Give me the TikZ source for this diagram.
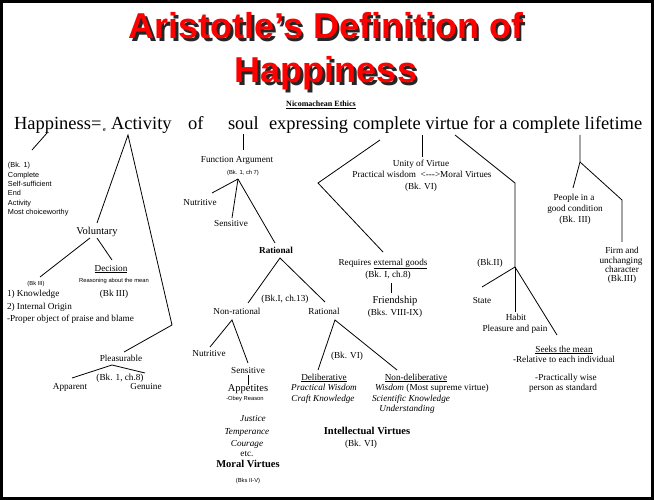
\documentclass[tikz,border=0pt]{standalone}
\usepackage{fontspec}
\setmainfont{Liberation Serif}
\newfontfamily\tfont{Liberation Sans}
\newfontfamily\sfnt{Liberation Sans}
\newcommand{\shadowtxt}[1]{\makebox[0pt][l]{\hspace{2.5pt}\raisebox{-2.5pt}{\color{black!85}#1}}{\color{red}#1}}
\begin{document}
\begin{tikzpicture}[x=1pt,y=-1pt,
 every node/.style={inner sep=0pt, outer sep=0pt},
 lbl/.style={font=\fontsize{9.2}{11}\selectfont, text height=6.1pt, text depth=0pt},
 lblL/.style={font=\fontsize{10.5}{12}\selectfont, text height=7pt, text depth=0pt},
 tiny/.style={font=\sfnt\fontsize{5.8}{7}\selectfont, text height=4.2pt, text depth=0pt},
 lft/.style={font=\sfnt\fontsize{7.3}{9}\selectfont, text height=5.3pt, text depth=0pt, anchor=west},
 mainw/.style={font=\fontsize{18.5}{22}\selectfont, anchor=base west},
 conn/.style={line width=0.8pt},
 ttl/.style={font=\tfont\bfseries\fontsize{36}{40}\selectfont, anchor=base},
]
\fill[white] (0,0) rectangle (654,500);
\draw[line width=3pt] (1.5,1.5) rectangle (652.5,498.5);
\useasboundingbox (0,0) rectangle (654,500);

% title
\node[ttl] (t1) at (326,39) {\shadowtxt{Aristotle’s Definition of}};
\node[ttl] (t2) at (326,83) {\shadowtxt{Happiness}};
\node[font=\bfseries\fontsize{8}{9}\selectfont, anchor=base] (nic) at (321,107) {\underline{Nicomachean Ethics}};

% main line
\node[mainw] (m1) at (14,130) {Happiness=};
\node[font=\bfseries\fontsize{6}{7}\selectfont, anchor=base west] (sube) at (103,132) {e};
\node[mainw] (m2) at (111,130) {Activity};
\node[mainw] (m3) at (188,130) {of};
\node[mainw] (m4) at (228,130) {soul};
\node[mainw] (m5) at (269,130) {expressing};
\node[mainw] (m6) at (353,130) {complete virtue for a complete lifetime};

% left block
\node[lft] (b1) at (8,165) {(Bk. 1)};
\node[lft] (b2) at (8,175) {Complete};
\node[lft] (b3) at (8,184) {Self-sufficient};
\node[lft] (b4) at (8,193) {End};
\node[lft] (b5) at (8,203) {Activity};
\node[lft] (b6) at (8,212) {Most choiceworthy};
\coordinate (h1) at (47,133); \coordinate (h2) at (32,150);
\draw[conn] (h1) -- (h2);

% Activity branch
\coordinate (ac) at (128,135);
\coordinate (vt) at (97,223);
\coordinate (pk) at (172,325);
\coordinate (pt) at (124,352);
\draw[conn] (vt) -- (ac) -- (pk) -- (pt);
\node[lblL] (vol) at (97,231) {Voluntary};
\coordinate (v1) at (90,238); \coordinate (v2) at (40,277);
\coordinate (v3) at (97,238); \coordinate (v4) at (112,260);
\draw[conn] (v1) -- (v2);
\draw[conn] (v3) -- (v4);
\node[lbl] (dec) at (111,268) {\underline{Decision}};
\node[tiny] (ream) at (114,280) {Reasoning about the mean};
\node[tiny] (bk3a) at (36,283) {(Bk III)};
\node[lbl, anchor=west] (kn) at (7,293) {1) Knowledge};
\node[lbl] (bk3b) at (114,293) {(Bk III)};
\node[lbl, anchor=west] (io) at (7,306) {2) Internal Origin};
\node[lbl, anchor=west] (pop) at (7,318) {-Proper object of praise and blame};
\node[lbl] (plea) at (121,358) {Pleasurable};
\coordinate (p0) at (112,365); \coordinate (p1) at (72,378); \coordinate (p2) at (145,373);
\draw[conn] (p1) -- (p0) -- (p2);
\node[lbl] (bk18) at (120,377) {(Bk. 1, ch.8)};
\node[lbl] (app) at (70,386) {Apparent};
\node[lbl] (gen) at (146,386) {Genuine};

% Function argument
\coordinate (s1) at (243,134); \coordinate (s2) at (243,150);
\draw[conn] (s1) -- (s2);
\node[lbl] (fa) at (237,159) {Function Argument};
\node[tiny] (bk17) at (243,172) {(Bk. 1, ch 7)};
\coordinate (f0) at (238,179);
\coordinate (f1) at (212,193); \coordinate (f2) at (232,218); \coordinate (f3) at (275,243);
\draw[conn] (f0) -- (f1); \draw[conn] (f0) -- (f2); \draw[conn] (f0) -- (f3);
\node[lbl] (nut1) at (200,202) {Nutritive};
\node[lbl] (sen1) at (231,223) {Sensitive};
\node[lbl, font=\bfseries\fontsize{9.2}{11}\selectfont] (rat1) at (276,250) {Rational};
\coordinate (r0) at (280,258); \coordinate (r1) at (248,303); \coordinate (r2) at (325,302);
\draw[conn] (r1) -- (r0) -- (r2);
\node[lbl] (bk113) at (285,298) {(Bk.I, ch.13)};
\node[lbl] (nonr) at (237,311) {Non-rational};
\node[lbl] (rat2) at (324,311) {Rational};
\coordinate (n0) at (232,320); \coordinate (n1) at (210,347); \coordinate (n2) at (248,363);
\draw[conn] (n1) -- (n0) -- (n2);
\node[lbl] (nut2) at (209,353) {Nutritive};
\node[lbl] (sen2) at (248,370) {Sensitive};
\coordinate (a1) at (248,375); \coordinate (a2) at (248,385);
\draw[conn] (a1) -- (a2);
\node[lblL] (appt) at (248,388) {Appetites};
\node[tiny] (obey) at (245,398) {-Obey Reason};
\node[lbl, font=\itshape\fontsize{9.2}{11}\selectfont] (jus) at (253,418) {Justice};
\node[lbl, font=\itshape\fontsize{9.2}{11}\selectfont] (tem) at (247,431) {Temperance};
\node[lbl, font=\itshape\fontsize{9.2}{11}\selectfont] (cou) at (247,443) {Courage};
\node[lbl] (etc) at (247,453) {etc.};
\node[lblL, font=\bfseries\fontsize{10.5}{12}\selectfont] (mv) at (248,464) {Moral Virtues};
\node[tiny] (bk25) at (248,480) {(Bks II-V)};

\coordinate (q0) at (335,320); \coordinate (q1) at (318,370); \coordinate (q2) at (397,370);
\draw[conn] (q1) -- (q0) -- (q2);
\node[lbl] (bk6a) at (347,355) {(Bk. VI)};
\node[lbl] (del) at (324,377) {\underline{Deliberative}};
\node[lbl, font=\itshape\fontsize{9.2}{11}\selectfont] (pw) at (324,387) {Practical Wisdom};
\node[lbl, font=\itshape\fontsize{9.2}{11}\selectfont] (ck) at (323,398) {Craft Knowledge};
\node[lbl] (ndel) at (416,377) {\underline{Non-deliberative}};
\node[lbl, anchor=west] (wis) at (375,387) {\textit{Wisdom} (Most supreme virtue)};
\node[lbl, font=\itshape\fontsize{9.2}{11}\selectfont] (sk) at (411,398) {Scientific Knowledge};
\node[lbl, font=\itshape\fontsize{9.2}{11}\selectfont] (und) at (407,408) {Understanding};
\node[lblL, font=\bfseries\fontsize{10.5}{12}\selectfont] (iv) at (367,431) {Intellectual Virtues};
\node[lbl] (bk6b) at (361,443) {(Bk. VI)};

% Unity of virtue
\coordinate (u1) at (422,135); \coordinate (u2) at (422,157);
\draw[conn] (u1) -- (u2);
\node[lbl] (uv) at (421,163) {Unity of Virtue};
\node[lbl] (pwmv) at (422,174) {Practical wisdom~ <{-}{-}{-}>Moral Virtues};
\node[lbl] (bk6c) at (421,186) {(Bk. VI)};

% external goods
\coordinate (e1) at (380,140); \coordinate (e2) at (318,183); \coordinate (e3) at (383,252);
\draw[conn] (e1) -- (e2) -- (e3);
\node[lbl] (req) at (383,262) {Requires \underline{external goods}};
\node[lbl] (bk18b) at (388,274) {(Bk. I, ch.8)};
\coordinate (g1) at (391,283); \coordinate (g2) at (391,293);
\draw[conn] (g1) -- (g2);
\node[lblL] (fr) at (395,300) {Friendship};
\node[lbl] (bk89) at (395,312) {(Bks. VIII-IX)};

% Habit
\coordinate (k1) at (455,135); \coordinate (k2) at (515,183); \coordinate (k3) at (515,267);
\draw[conn] (k1) -- (k2) -- (k3);
\node[lbl] (bk2) at (490,262) {(Bk.II)};
\coordinate (k4) at (482,287); \coordinate (k5) at (515,312); \coordinate (k6) at (557,335);
\draw[conn] (k3) -- (k4); \draw[conn] (k3) -- (k5); \draw[conn] (k3) -- (k6);
\node[lbl] (st) at (482,300) {State};
\node[lbl] (hab) at (516,317) {Habit};
\node[lbl] (pp) at (515,328) {Pleasure and pain};
\node[lbl] (stm) at (564,349) {\underline{Seeks the mean}};
\node[lbl] (rel) at (564,359) {-Relative to each individual};
\node[lbl] (pwise) at (566,377) {-Practically wise};
\node[lbl] (pas) at (563,387) {person as standard};

% lifetime
\coordinate (l1) at (580,135); \coordinate (l2) at (580,162);
\coordinate (l3) at (573,188); \coordinate (l4) at (622,200); \coordinate (l5) at (622,242);
\draw[conn] (l1) -- (l2) -- (l3);
\draw[conn] (l2) -- (l4) -- (l5);
\node[lbl] (pe1) at (574,197) {People in a};
\node[lbl] (pe2) at (575,208) {good condition};
\node[lbl] (pe3) at (575,219) {(Bk. III)};
\node[lbl] (fi1) at (622,250) {Firm and};
\node[lbl] (fi2) at (621,260) {unchanging};
\node[lbl] (fi3) at (622,269) {character};
\node[lbl] (fi4) at (622,278) {(Bk.III)};
\end{tikzpicture}
\end{document}
